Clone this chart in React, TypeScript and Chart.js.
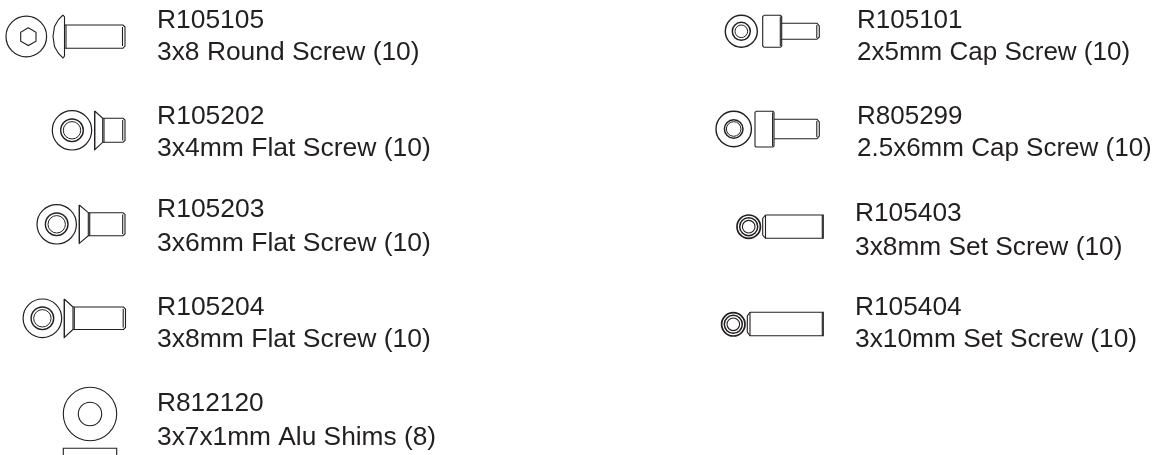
import React, { useEffect, useRef } from "react";
import { Chart, registerables } from "chart.js";

Chart.register(...registerables);

const partCodes = ["R105105", "R105202", "R105203", "R105204", "R812120", "R105101", "R805299", "R105403", "R105404"];
const partNames = [
  "3x8 Round Screw (10)",
  "3x4mm Flat Screw (10)",
  "3x6mm Flat Screw (10)",
  "3x8mm Flat Screw (10)",
  "3x7x1mm Alu Shims (8)",
  "2x5mm Cap Screw (10)",
  "2.5x6mm Cap Screw (10)",
  "3x8mm Set Screw (10)",
  "3x10mm Set Screw (10)",
];
const labelX = [157, 157, 157, 157, 157, 857, 857, 855, 855];
const codeY = [28, 124, 217, 315, 411, 28, 124, 221, 315];
const nameY = [60, 156, 251, 347, 445, 60, 156, 255, 347];
const labelSize = [26.4, 26.5, 26.5, 26.5, 26.3, 26, 26, 26.3, 26.3];

type P = [number, number];
const circles: [number, number, number, number][] = [
  [26.3, 36.5, 20.3, 1.2],
  [72, 130.3, 19.7, 1.2], [72, 130.3, 11.3, 1.4], [72, 130.3, 8.7, 1],
  [56.7, 224.3, 19.7, 1.2], [56.7, 224.3, 11.3, 1.4], [56.7, 224.3, 8.7, 1],
  [42.4, 318.3, 19.3, 1.2], [42.4, 318.3, 11.3, 1.4], [42.4, 318.3, 8.7, 1],
  [90, 414, 26.7, 1.1], [90, 414, 11.7, 1.1],
  [741.3, 31.3, 16, 1.4], [741.3, 31.3, 9, 1.5], [741.3, 31.3, 6.3, 1],
  [733.7, 129, 17.7, 1.4], [733.7, 129, 9.3, 1.5], [733.7, 129, 7.3, 1],
  [748.7, 226.7, 11.7, 1.7], [748.7, 226.7, 9, 1.5], [748.7, 226.7, 6.3, 1.1],
  [733.3, 324.3, 11.7, 1.7], [733.3, 324.3, 9, 1.5], [733.3, 324.3, 6.3, 1.1],
];
const outlines: P[][] = [
  // R105105
  [[28.3, 27.8], [36, 32.2], [36, 41.2], [28.3, 45.6], [20.7, 41.2], [20.7, 32.2], [28.3, 27.8]],
  [[63, 15], [58.5, 19.5], [54.5, 26.5], [53, 36.5], [54.5, 46.5], [58.5, 53.5], [63, 58], [64.5, 56], [64.5, 17], [63, 15]],
  [[64.5, 25], [123, 25], [125, 27], [125, 46], [123, 48.3], [64.5, 48.3]],
  [[66, 25], [66, 48.3]],
  [[122.5, 27], [122.5, 46]],
  // R105202
  [[94.7, 111], [94.7, 149.7], [102.7, 142.3], [102.7, 118.3], [94.7, 111]],
  [[94.7, 111], [94.7, 149.7]],
  [[102.7, 118.3], [123, 118.3], [125, 120], [125, 140.5], [123, 142.3], [102.7, 142.3]],
  [[104, 118.3], [104, 142.3]],
  [[122.7, 120], [122.7, 140.5]],
  // R105203
  [[79.3, 205], [79.3, 243.3], [88.3, 235.7], [88.3, 212.7], [79.3, 205]],
  [[79.3, 205], [79.3, 243.3]],
  [[88.3, 212.7], [123, 212.7], [125, 214.5], [125, 234], [123, 235.7], [88.3, 235.7]],
  [[89.7, 212.7], [89.7, 235.7]],
  [[122.7, 214.5], [122.7, 234]],
  // R105204
  [[64.3, 299], [64.3, 337.5], [73, 329.5], [73, 307], [64.3, 299]],
  [[64.3, 299], [64.3, 337.5]],
  [[73, 307], [123.5, 307], [125.5, 309], [125.5, 327.5], [123.5, 329.5], [73, 329.5]],
  [[74.3, 307], [74.3, 329.5]],
  [[123.2, 309], [123.2, 327.5]],
  // R812120
  [[63.3, 455], [63.3, 448.3], [116.7, 448.3], [116.7, 455]],
  // R105101
  [[764, 15.3], [780.5, 15.3], [781.7, 16.5], [781.7, 46], [780.5, 47.3], [764, 47.3], [762.7, 46], [762.7, 16.5], [764, 15.3]],
  [[780.3, 16.5], [780.3, 46]],
  [[781.7, 23.3], [817, 23.3], [819.3, 26], [819.3, 37], [817, 39.3], [781.7, 39.3]],
  [[816.8, 25], [816.8, 38]],
  // R805299
  [[756, 111.3], [773, 111.3], [774, 112.5], [774, 146], [773, 147], [756, 147], [755, 146], [755, 112.5], [756, 111.3]],
  [[772.6, 112.5], [772.6, 146]],
  [[774, 119.3], [817, 119.3], [819.3, 122], [819.3, 136], [817, 138.7], [774, 138.7]],
  [[816.8, 121], [816.8, 137]],
  // R105403
  [[765.5, 215], [823.3, 215], [823.3, 238.3], [765.5, 238.3], [762.7, 235], [762.7, 218.5], [765.5, 215]],
  [[765.5, 215], [765.5, 238.3]],
  [[822.3, 215], [822.3, 238.3]],
  // R105404
  [[750, 312.3], [823.3, 312.3], [823.3, 335.7], [750, 335.7], [747.3, 332], [747.3, 316], [750, 312.3]],
  [[750, 312.3], [750, 335.7]],
  [[822.3, 312.3], [822.3, 335.7]],
];

const INK = "#231f20";

const labelPlugin = {
  id: "partLabels",
  afterDatasetsDraw(chart: any) {
    const { ctx, scales } = chart;
    ctx.save();
    ctx.fillStyle = INK;
    ctx.textBaseline = "alphabetic";
    ctx.textAlign = "left";
    partCodes.forEach((code, i) => {
      ctx.font = `${labelSize[i]}px "Liberation Sans"`;
      const x = scales.x.getPixelForValue(labelX[i]);
      ctx.fillText(code, x, scales.y.getPixelForValue(codeY[i]));
      ctx.fillText(partNames[i], x, scales.y.getPixelForValue(nameY[i]));
    });
    ctx.restore();
  },
};

export default function App() {
  const ref = useRef<HTMLCanvasElement>(null);
  useEffect(() => {
    const chart = new Chart(ref.current!, {
      type: "scatter",
      data: {
        datasets: [
          ...outlines.map((pts) => ({
            data: pts.map(([x, y]) => ({ x, y })),
            showLine: true,
            borderColor: INK,
            borderWidth: 1.1,
            pointRadius: 0,
            fill: false,
          })),
          {
            data: circles.map(([x, y]) => ({ x, y })),
            showLine: false,
            pointRadius: circles.map((c) => c[2]),
            pointBorderWidth: circles.map((c) => c[3]),
            pointBorderColor: INK,
            pointBackgroundColor: "transparent",
          },
        ],
      } as any,
      options: {
        animation: false,
        responsive: false,
        layout: { padding: 0, autoPadding: false },
        plugins: { legend: { display: false }, tooltip: { enabled: false } },
        scales: {
          x: { type: "linear", display: false, min: 0, max: 1161 },
          y: { type: "linear", display: false, min: 0, max: 455, reverse: true },
        },
      },
      plugins: [labelPlugin],
    } as any);
    return () => chart.destroy();
  }, []);
  return (
    <div style={{ position: "fixed", left: 0, top: 0, width: 1161, height: 455, background: "#fff" }}>
      <canvas ref={ref} width={1161} height={455} style={{ display: "block" }} />
    </div>
  );
}
